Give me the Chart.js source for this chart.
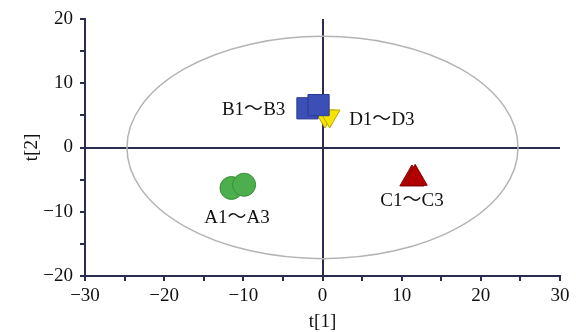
<!DOCTYPE html>
<html>
<head>
<meta charset="utf-8">
<script src="https://cdn.jsdelivr.net/npm/chart.js@4"></script>
<style>
  html, body { margin: 0; padding: 0; background: #fff; }
  #wrap { width: 576px; height: 332px; }
</style>
</head>
<body>
<div id="wrap"><canvas id="pca"></canvas></div>
<script>
// ==================== DATA ====================
const GROUPS = ['A1～A3', 'B1～B3', 'C1～C3', 'D1～D3'];

// score coordinates (t[1], t[2])
const A_T1 = [-11.5, -9.9];
const A_T2 = [-6.3, -5.8];
const B_T1 = [-1.9, -0.5];
const B_T2 = [6.1, 6.6];
const C_T1 = [11.3, 11.7];
const C_T2 = [-4.9, -4.8];
const D_T1 = [0.3, 0.9];
const D_T2 = [4.9, 4.9];

// where each group label sits (data units)
const LABEL_T1 = [-10.8, -8.7, 11.3, 7.5];
const LABEL_T2 = [-10.9, 5.9, -8.4, 4.3];

// Hotelling T2 ellipse semi axes
const ELLIPSE_T1 = 24.7;
const ELLIPSE_T2 = 17.3;

const X_TICKS = [-30, -20, -10, 0, 10, 20, 30];
const Y_TICKS = [-20, -10, 0, 10, 20];

// ==================== STYLE ====================
const NAVY = '#2c2d4e';
const SERIF = "'Liberation Serif', 'Times New Roman', 'Noto Sans CJK SC', serif";

const pts = (xs, ys) => xs.map((x, i) => ({ x: x, y: ys[i] }));
const fmt = v => (v < 0 ? '\u2212' + Math.abs(v) : String(v));

// ellipse + group labels
const extras = {
    id: 'extras',
    beforeDatasetsDraw(chart) {
        const { ctx, scales: { x, y } } = chart;
        const cx = x.getPixelForValue(0), cy = y.getPixelForValue(0);
        const rx = x.getPixelForValue(ELLIPSE_T1) - cx;
        const ry = cy - y.getPixelForValue(ELLIPSE_T2);
        ctx.save();
        ctx.strokeStyle = '#b4b4b4';
        ctx.lineWidth = 1.5;
        ctx.beginPath();
        ctx.ellipse(cx, cy, rx, ry, 0, 0, Math.PI * 2);
        ctx.stroke();
        ctx.restore();
    },
    afterDatasetsDraw(chart) {
        const { ctx, scales: { x, y } } = chart;
        ctx.save();
        ctx.fillStyle = '#111';
        ctx.font = '19px ' + SERIF;
        ctx.textAlign = 'center';
        ctx.textBaseline = 'middle';
        GROUPS.forEach((g, i) => {
            ctx.fillText(g, x.getPixelForValue(LABEL_T1[i]), y.getPixelForValue(LABEL_T2[i]));
        });
        ctx.restore();
    }
};

const axisCommon = (min, max, ticks) => ({
    type: 'linear',
    min: min,
    max: max,
    grid: {
        drawOnChartArea: true,
        color: c => (c.tick && c.tick.value === 0 ? NAVY : 'rgba(0,0,0,0)'),
        tickColor: NAVY,
        tickLength: 5,
        lineWidth: 2
    },
    border: { display: true, color: NAVY, width: 2 },
    ticks: {
        stepSize: 5,
        color: '#111',
        font: { family: SERIF, size: 19 },
        callback: v => (ticks.includes(v) ? fmt(v) : '')
    }
});

const xAxis = axisCommon(-30, 30, X_TICKS);
xAxis.ticks.padding = 4;
xAxis.ticks.maxRotation = 0;
xAxis.title = { display: true, text: 't[1]', color: '#111', font: { family: SERIF, size: 19 }, padding: { top: 0, bottom: -1 } };
xAxis.afterFit = s => { s.height = 56; };

const yAxis = axisCommon(-20, 20, Y_TICKS);
yAxis.ticks.padding = 7;
yAxis.title = { display: true, text: 't[2]', color: '#111', font: { family: SERIF, size: 19 }, padding: { top: 21, bottom: 0 } };
yAxis.afterFit = s => { s.width = 85; };

new Chart(document.getElementById('pca'), {
    type: 'scatter',
    data: {
        datasets: [
            { label: GROUPS[0], data: pts(A_T1, A_T2), pointStyle: 'circle', pointRadius: 11.5,
              backgroundColor: '#4cae4c', borderColor: '#3a8f3a', borderWidth: 1 },
            { label: GROUPS[1], data: pts(B_T1, B_T2), pointStyle: 'rect', pointRadius: 15,
              backgroundColor: '#3c4fb6', borderColor: '#2b3a92', borderWidth: 1 },
            { label: GROUPS[2], data: pts(C_T1, C_T2), pointStyle: 'triangle', pointRadius: 14,
              backgroundColor: '#b20000', borderColor: '#8a0000', borderWidth: 1 },
            { label: GROUPS[3], data: pts(D_T1, D_T2), pointStyle: 'triangle', rotation: 180, pointRadius: 12,
              backgroundColor: '#f6e400', borderColor: '#b8a600', borderWidth: 1 }
        ]
    },
    options: {
        responsive: true,
        maintainAspectRatio: false,
        animation: false,
        layout: { padding: { left: 0, right: 13, top: 19, bottom: 0 } },
        plugins: { legend: { display: false }, tooltip: { enabled: false } },
        scales: { x: xAxis, y: yAxis }
    },
    plugins: [extras]
});
</script>
</body>
</html>
